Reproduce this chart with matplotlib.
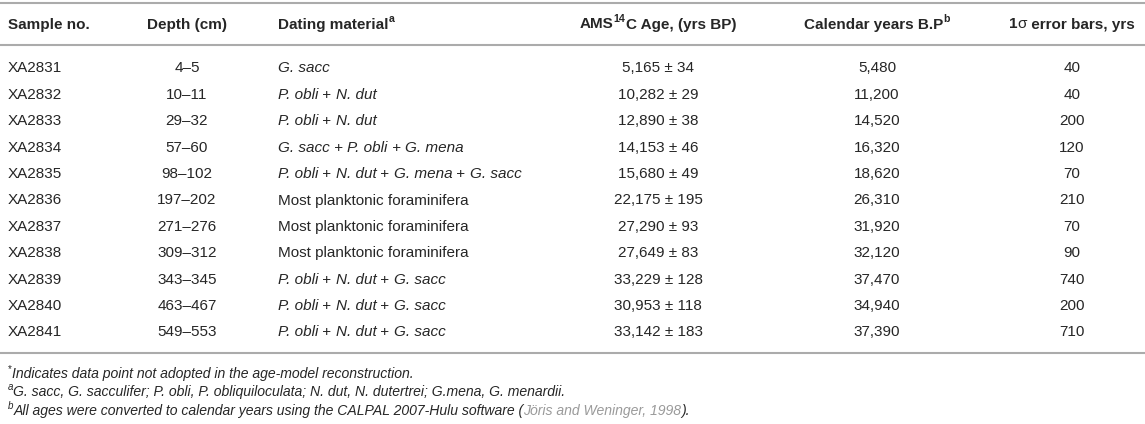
import matplotlib
matplotlib.use("Agg")
import matplotlib.pyplot as plt
from matplotlib.lines import Line2D
from matplotlib.transforms import IdentityTransform

plt.rcParams["font.family"] = ["Liberation Sans", "DejaVu Sans"]

samples = ["XA2831", "XA2832", "XA2833", "XA2834", "XA2835", "XA2836",
           "XA2837", "XA2838", "XA2839", "XA2840", "XA2841"]
depths = ["4–5", "10–11", "29–32", "57–60", "98–102", "197–202",
          "271–276", "309–312", "343–345", "463–467", "549–553"]
materials = ["G. sacc", "P. obli + N. dut", "P. obli + N. dut",
             "G. sacc + P. obli + G. mena",
             "P. obli + N. dut + G. mena + G. sacc",
             "Most planktonic foraminifera", "Most planktonic foraminifera",
             "Most planktonic foraminifera",
             "P. obli + N. dut + G. sacc", "P. obli + N. dut + G. sacc",
             "P. obli + N. dut + G. sacc"]
ams_age = [5165, 10282, 12890, 14153, 15680, 22175, 27290, 27649, 33229, 30953, 33142]
ams_err = [34, 29, 38, 46, 49, 195, 93, 83, 128, 118, 183]
cal_years = [5480, 11200, 14520, 16320, 18620, 26310, 31920, 32120, 37470, 34940, 37390]
err_bars = [40, 40, 200, 120, 70, 210, 70, 90, 740, 200, 710]

note_star = "Indicates data point not adopted in the age-model reconstruction."
note_a = ("G. sacc, G. sacculifer; P. obli, P. obliquiloculata; "
          "N. dut, N. dutertrei; G.mena, G. menardii.")
note_b = "All ages were converted to calendar years using the CALPAL 2007-Hulu software ("
note_cite = "Jöris and Weninger, 1998"

W, H = 1145, 424
TXT = "#262626"
RULE = "#ababab"

fig = plt.figure(figsize=(W / 100, H / 100), dpi=100)
fig.patch.set_facecolor("white")
renderer = fig.canvas.get_renderer()


def rich(x, y, parts, ha="left", size=11):
    # draw a run of text pieces side by side on one baseline
    arts = []
    for s, kw in parts:
        kw = dict(kw)
        sup = kw.pop("sup", False)
        kw.setdefault("color", TXT)
        fs = size * 0.7 if sup else size
        t = fig.text(0, 0, s, fontsize=fs, transform=IdentityTransform(),
                     va="baseline", ha="left", **kw)
        arts.append((t, sup))
    widths = [t.get_window_extent(renderer).width for t, _ in arts]
    x0 = x - sum(widths) / 2 if ha == "center" else x
    base = H - y - size * 100 / 72 * 0.36
    for (t, sup), w in zip(arts, widths):
        dy = size * 100 / 72 * 0.42 if sup else 0
        t.set_position((x0, base + dy))
        x0 += w


def hline(y):
    fig.add_artist(Line2D([0, W], [H - y, H - y], color=RULE, lw=1.5,
                          transform=IdentityTransform()))


B = {"weight": "bold"}
I = {"style": "italic"}

col_x = [8, 187, 278, 658, 877, 1072]
head_y = 23
hline(3)
hline(45)

rich(col_x[0], head_y, [("Sample no.", B)])
rich(col_x[1], head_y, [("Depth (cm)", B)], ha="center")
rich(col_x[2], head_y, [("Dating material", B), ("a", {"weight": "bold", "sup": True})])
rich(col_x[3], head_y, [("AMS", B), ("14", {"weight": "bold", "sup": True}),
                        ("C Age, (yrs BP)", B)], ha="center")
rich(col_x[4], head_y, [("Calendar years B.P", B), ("b", {"weight": "bold", "sup": True})],
     ha="center")
rich(col_x[5], head_y, [("1", B), ("σ", {}), (" error bars, yrs", B)], ha="center")

row0, step = 67, 26.4
for i in range(len(samples)):
    y = row0 + i * step
    rich(col_x[0], y, [(samples[i], {})])
    rich(col_x[1], y, [(depths[i], {})], ha="center")
    if materials[i].startswith("Most"):
        parts = [(materials[i], {})]
    else:
        parts = []
        for j, name in enumerate(materials[i].split(" + ")):
            if j:
                parts.append((" + ", {}))
            parts.append((name, I))
    rich(col_x[2], y, parts)
    rich(col_x[3], y, [(f"{ams_age[i]:,} ± {ams_err[i]}", {})], ha="center")
    rich(col_x[4], y, [(f"{cal_years[i]:,}", {})], ha="center")
    rich(col_x[5], y, [(str(err_bars[i]), {})], ha="center")

hline(353)

fs = 10.1
rich(8, 373, [("*", {"sup": True}), (note_star, I)], size=fs)
rich(8, 391, [("a", {"sup": True, "style": "italic"}), (note_a, I)], size=fs)
rich(8, 410, [("b", {"sup": True, "style": "italic"}), (note_b, I),
              (note_cite, {"style": "italic", "color": "#9a9a9a"}), (").", I)], size=fs)

fig.savefig("out.png", dpi=100)
